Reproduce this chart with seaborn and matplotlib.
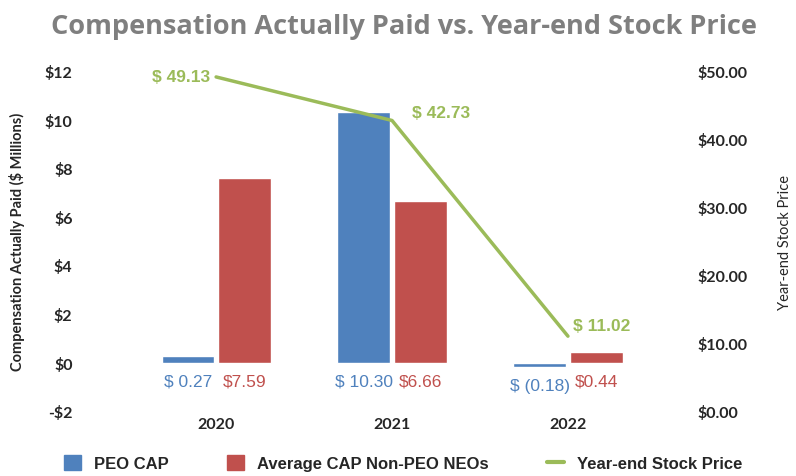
import pandas as pd
import seaborn as sns
import matplotlib.pyplot as plt
from matplotlib.patches import Patch
from matplotlib.lines import Line2D

# chart data
years = ["2020", "2021", "2022"]
peo_cap = [0.27, 10.30, -0.18]
avg_cap = [7.59, 6.66, 0.44]
stock_price = [49.13, 42.73, 11.02]
peo_labels = ["$ 0.27", "$ 10.30", "$ (0.18)"]
avg_labels = ["$7.59", "$6.66", "$0.44"]
price_labels = ["$ 49.13", "$ 42.73", "$ 11.02"]

blue = "#4f81bd"
red = "#c0504d"
green = "#9bbb59"
narrow = ["Liberation Sans", "DejaVu Sans"]

sns.set_style("white")
plt.rcParams["font.family"] = ["Lato", "DejaVu Sans"]

df = pd.DataFrame({
    "Year": years * 2,
    "CAP": peo_cap + avg_cap,
    "Series": ["PEO CAP"] * 3 + ["Average CAP Non-PEO NEOs"] * 3,
})

fig = plt.figure(figsize=(7.96, 4.77), dpi=100)
ax = fig.add_axes([0.161, 0.136, 0.663, 0.713])

sns.barplot(data=df, x="Year", y="CAP", hue="Series", palette=[blue, red],
            width=0.64, gap=0.06, saturation=1, ax=ax, legend=False)
ax.set_ylim(-2, 12)
ax.set_yticks(range(-2, 13, 2))
ax.set_yticklabels([f"-${abs(v)}" if v < 0 else f"${v}" for v in range(-2, 13, 2)],
                   fontweight="bold", fontsize=11.5)
ax.set_xlabel("")
ax.set_ylabel("Compensation Actually Paid ($ Millions)", fontweight="bold", fontsize=10.5, labelpad=14)
ax.tick_params(axis="y", pad=40)
ax.tick_params(axis="x", labelsize=11.5, pad=4)
for t in ax.get_xticklabels():
    t.set_fontweight("bold")
ax.tick_params(length=0)
sns.despine(ax=ax, left=True, bottom=True)

# value labels under the bars
for i in range(len(years)):
    dy = -0.75 if peo_cap[i] >= 0 else -0.95
    ax.text(i - 0.16, dy, peo_labels[i], color=blue, ha="center", va="center",
            fontsize=12.5, family=narrow)
    ax.text(i + 0.16, -0.75, avg_labels[i], color=red, ha="center", va="center",
            fontsize=12.5, family=narrow)

ax2 = ax.twinx()
sns.pointplot(x=years, y=stock_price, color=green, markers="", linewidth=2.5, ax=ax2)
ax2.set_ylim(0, 50)
ax2.set_yticks(range(0, 51, 10))
ax2.set_yticklabels([f"${v:.2f}" for v in range(0, 51, 10)], fontweight="bold", fontsize=11.5)
ax2.set_ylabel("Year-end Stock Price", fontsize=10.5, labelpad=22)
ax2.tick_params(length=0, pad=30)
sns.despine(ax=ax2, left=True, bottom=True, right=True)
ax.set_xlim(-0.5, 2.5)

offsets = [(-0.2, 0.0), (0.28, 1.2), (0.19, 1.5)]
for i, (dx, dy) in enumerate(offsets):
    ax2.text(i + dx, stock_price[i] + dy, price_labels[i], color=green, ha="center",
             va="center", fontsize=12.5, family=narrow, fontweight="bold")

fig.suptitle("Compensation Actually Paid vs. Year-end Stock Price", x=0.507, y=0.97,
             fontsize=19.5, fontweight="bold", color="#7f7f7f", family=["Open Sans", "DejaVu Sans"])

handles = [Patch(color=blue), Patch(color=red), Line2D([], [], color=green, lw=3)]
fig.legend(handles, ["PEO CAP", "Average CAP Non-PEO NEOs", "Year-end Stock Price"],
           loc="lower center", bbox_to_anchor=(0.507, -0.022), ncol=3, frameon=False,
           prop={"family": narrow, "weight": "bold", "size": 12},
           handlelength=1.0, handleheight=1.0, columnspacing=3.5)

fig.savefig("out.png", dpi=100)
